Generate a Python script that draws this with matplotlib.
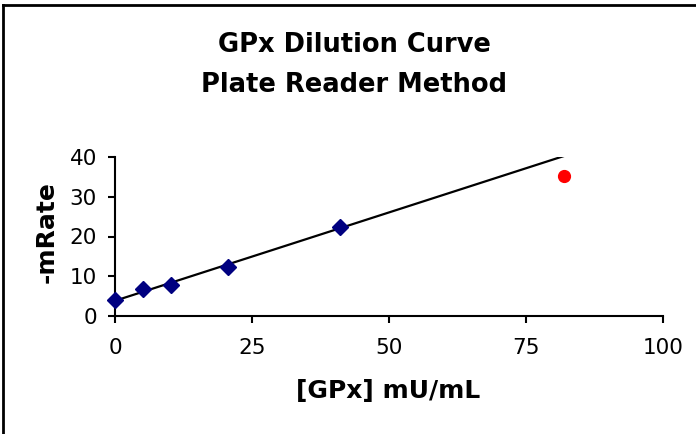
import matplotlib
matplotlib.use('Agg')
import matplotlib.pyplot as plt
from matplotlib.lines import Line2D
import numpy as np

# standards (diamonds) and the sample that falls off the curve (red)
gpx_std = [0, 5.1, 10.3, 20.7, 41.1]
rate_std = [4.0, 6.7, 7.7, 12.4, 22.5]
gpx_out = [81.9]
rate_out = [35.4]

x_ticks = [0, 25, 50, 75, 100]
y_ticks = [0, 10, 20, 30, 40]

W, H = 696, 434
fig = plt.figure(figsize=(W / 100, H / 100), dpi=100)
ax = fig.add_axes([115 / W, 1 - 315.7 / H, 548 / W, 158.4 / H])

# linear trendline through the standards, drawn out to the last sample
slope, icept = np.polyfit(gpx_std, rate_std, 1)
xl = np.array([0, gpx_out[0] + 1.6])
ax.plot(xl, slope * xl + icept, color='black', lw=1.6, zorder=2)

ax.plot(gpx_std, rate_std, linestyle='None', marker='D', markersize=8.5,
        color='#000080', zorder=3, clip_on=False)
ax.plot(gpx_out, rate_out, linestyle='None', marker='o', markersize=8.5,
        color='#ff0000', zorder=3)

ax.set_xlim(0, 100)
ax.set_ylim(0, 40)
ax.set_xticks(x_ticks)
ax.set_yticks(y_ticks)
for s in ['top', 'right']:
    ax.spines[s].set_visible(False)
for s in ['left', 'bottom']:
    ax.spines[s].set_linewidth(1.5)
ax.tick_params(direction='out', length=5, width=1.5, labelsize=15.5)
ax.tick_params(axis='x', pad=11)
ax.tick_params(axis='y', pad=8)

# axis titles placed where the reference has them
fig.text(388 / W, 1 - 398 / H, '[GPx] mU/mL', ha='center', va='baseline',
         fontsize=18, fontweight='bold')
fig.text(47 / W, 1 - 232.5 / H, '-mRate', ha='center', va='center',
         rotation=90, fontsize=18, fontweight='bold')

fig.text(354 / W, 1 - 52 / H, 'GPx Dilution Curve', ha='center', va='baseline',
         fontsize=18.5, fontweight='bold')
fig.text(354 / W, 1 - 92 / H, 'Plate Reader Method', ha='center', va='baseline',
         fontsize=18.5, fontweight='bold')

# chart frame: only top and left edges are visible in the crop
fig.lines.append(Line2D([3 / W, 1], [1 - 4.5 / H, 1 - 4.5 / H], transform=fig.transFigure,
                        color='black', lw=2))
fig.lines.append(Line2D([3 / W, 3 / W], [0, 1 - 4.5 / H], transform=fig.transFigure,
                        color='black', lw=2))

fig.savefig('out.png', dpi=100)
plt.close('all')
